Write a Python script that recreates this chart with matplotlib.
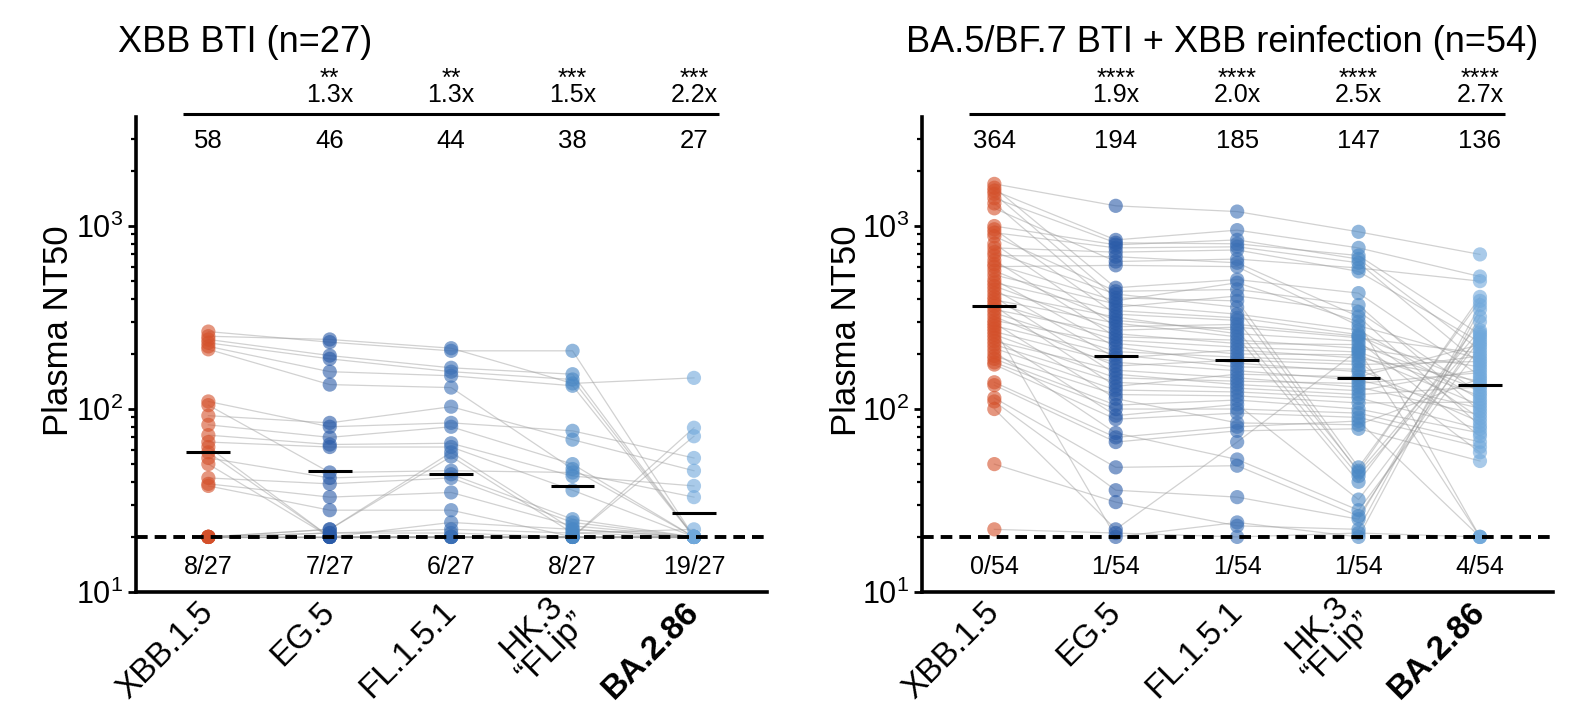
import matplotlib
matplotlib.use('Agg')
import matplotlib.pyplot as plt
import matplotlib.transforms as mtransforms

plt.rcParams['font.family'] = ['Liberation Sans', 'DejaVu Sans']
plt.rcParams['mathtext.fontset'] = 'custom'
plt.rcParams['mathtext.rm'] = 'Liberation Sans'
plt.rcParams['mathtext.it'] = 'Liberation Sans:italic'
plt.rcParams['mathtext.bf'] = 'Liberation Sans:bold'

variants = ['XBB.1.5', 'EG.5', 'FL.1.5.1', 'HK.3\n\u201cFLip\u201d', 'BA.2.86']
colors = ['#D4502A', '#2A5BA8', '#3A6FB5', '#4A88C5', '#70A8DB']
lod = 20

# ---------------- Left panel: XBB BTI (n=27) ----------------
left_title = 'XBB BTI (n=27)'
L_XBB = [265, 250, 240, 230, 220, 212, 110, 105, 92, 82, 72, 66, 62, 58, 54, 50, 42, 39, 38,
         20, 20, 20, 20, 20, 20, 20, 20]
L_EG = [232, 240, 196, 188, 160, 136, 80, 45, 84, 70, 64, 62, 20, 20, 42, 20, 39, 33, 28,
        22, 21, 21, 22, 20, 20, 20, 20]
L_FL = [208, 215, 168, 160, 152, 131, 84, 46, 103, 80, 65, 62, 20, 24, 44, 20, 42, 35, 28,
        58, 22, 21, 55, 20, 20, 20, 20]
L_HK = [208, 138, 155, 145, 134, 47, 76, 45, 68, 50, 43, 36, 20, 22, 25, 20, 24, 23, 20,
        22, 21, 20, 21, 20, 20, 20, 20]
L_BA = [20, 148, 20, 20, 20, 20, 54, 33, 46, 20, 38, 20, 79, 20, 20, 20, 20, 20, 20,
        20, 22, 20, 20, 71, 20, 20, 20]
left_gmt = [58, 46, 44, 38, 27]
left_fold = ['', '1.3x', '1.3x', '1.5x', '2.2x']
left_stars = ['', '**', '**', '***', '***']
left_below = ['8/27', '7/27', '6/27', '8/27', '19/27']

# ---------------- Right panel: BA.5/BF.7 BTI + XBB reinfection (n=54) ----------------
right_title = 'BA.5/BF.7 BTI + XBB reinfection (n=54)'
R_XBB = [1700, 1620, 1560, 1500, 1420, 1330, 1250, 1000, 960, 920, 880, 800, 760, 720, 690, 650,
         620, 600, 570, 540, 510, 490, 470, 450, 430, 410, 395, 380, 365, 350, 335, 320, 305, 295,
         285, 275, 265, 255, 245, 235, 225, 215, 205, 195, 188, 180, 175, 140, 135, 115, 110, 100,
         50, 22]
R_EG = [1290, 460, 840, 405, 810, 360, 640, 790, 330, 760, 440, 282, 720, 425, 680, 248, 390, 610,
        305, 375, 218, 345, 270, 190, 318, 155, 295, 238, 133, 258, 206, 172, 228, 114, 198, 20,
        180, 148, 92, 163, 140, 127, 74, 120, 105, 100, 88, 70, 66, 48, 36, 22, 31, 21]
R_FL = [1200, 510, 950, 390, 800, 415, 660, 840, 305, 770, 450, 290, 740, 360, 630, 238, 490, 600,
        270, 330, 178, 315, 280, 210, 258, 136, 248, 218, 155, 228, 192, 185, 200, 84, 170, 24,
        162, 142, 106, 148, 130, 124, 53, 118, 112, 100, 95, 80, 76, 49, 33, 66, 23, 20]
R_HK = [930, 430, 760, 48, 690, 340, 590, 660, 46, 630, 370, 250, 565, 45, 320, 215, 300, 285,
        43, 270, 160, 255, 245, 190, 235, 126, 40, 205, 150, 225, 182, 175, 198, 82, 165, 20,
        144, 138, 32, 132, 120, 115, 28, 108, 100, 95, 90, 86, 78, 26, 25, 210, 22, 21]
R_BA = [700, 152, 530, 390, 255, 122, 500, 210, 410, 176, 97, 137, 232, 270, 81, 170, 20, 188,
        248, 113, 195, 89, 202, 142, 71, 164, 300, 118, 225, 127, 58, 182, 105, 147, 85, 350,
        101, 158, 240, 93, 132, 78, 218, 109, 74, 66, 62, 20, 52, 262, 320, 20, 370, 20]
right_gmt = [364, 194, 185, 147, 136]
right_fold = ['', '1.9x', '2.0x', '2.5x', '2.7x']
right_stars = ['', '****', '****', '****', '****']
right_below = ['0/54', '1/54', '1/54', '1/54', '4/54']

W, H = 1589, 722
fig = plt.figure(figsize=(W / 100, H / 100), dpi=100)

ax_bottom = 1 - 592 / H
ax_height = (592 - 117) / H
ax_width = 631.3 / W
axL = fig.add_axes([135.5 / W, ax_bottom, ax_width, ax_height])
axR = fig.add_axes([921.5 / W, ax_bottom, ax_width, ax_height])


def ypx(px):
    # axes-fraction y for a figure pixel row (from top)
    return (592 - px) / (592 - 117)


def draw_panel(ax, data, gmt, fold, stars, below, title, title_x):
    xs = list(range(len(data)))
    n = len(data[0])
    for i in range(n):
        ax.plot(xs, [d[i] for d in data], color='#9a9a9a', lw=0.9, alpha=0.45, zorder=1)
    for j, d in enumerate(data):
        ax.scatter([j] * len(d), d, s=105, color=colors[j], alpha=0.6,
                   edgecolors='none', zorder=2)
        ax.plot([j - 0.18, j + 0.18], [gmt[j], gmt[j]], color='black', lw=2.2,
                solid_capstyle='butt', zorder=4)
    ax.axhline(lod, color='black', lw=2.8, dashes=(3.0, 1.8), zorder=5)

    ax.set_yscale('log')
    ax.set_ylim(10, 3945)
    ax.set_xlim(-0.6, 4.6)
    for s in ['top', 'right']:
        ax.spines[s].set_visible(False)
    for s in ['left', 'bottom']:
        ax.spines[s].set_linewidth(2.6)
    ax.tick_params(axis='y', which='major', direction='out', length=6, width=2,
                   labelsize=22, pad=3)
    ax.tick_params(axis='y', which='minor', direction='out', length=3.5, width=1.6)
    ax.tick_params(axis='x', length=0, labelsize=24, pad=11)
    ax.set_xticks(xs)
    labs = ax.set_xticklabels(variants, rotation=45, ha='right', va='center',
                              rotation_mode='anchor', multialignment='center',
                              linespacing=0.95)
    labs[-1].set_fontweight('bold')

    trans = mtransforms.blended_transform_factory(ax.transData, ax.transAxes)
    ax.plot([-0.21, 4.21], [ypx(114.3)] * 2, color='black', lw=2.2, transform=trans,
            clip_on=False, solid_capstyle='butt')
    for j in xs:
        ax.text(j, ypx(141), str(gmt[j]), transform=trans, ha='center', va='center',
                fontsize=18.5)
        ax.text(j, ypx(566.5), below[j], transform=trans, ha='center', va='center',
                fontsize=18)
        if fold[j]:
            ax.text(j, ypx(102), stars[j] + '\n' + fold[j], transform=trans,
                    ha='center', va='baseline', multialignment='center',
                    fontsize=18, linespacing=0.6, clip_on=False)
    ax.text(title_x, ypx(43), title, transform=ax.transAxes, ha='left', va='center',
            fontsize=26)


draw_panel(axL, [L_XBB, L_EG, L_FL, L_HK, L_BA], left_gmt, left_fold, left_stars,
           left_below, left_title, (118 - 135.5) / 631.3)
draw_panel(axR, [R_XBB, R_EG, R_FL, R_HK, R_BA], right_gmt, right_fold, right_stars,
           right_below, right_title, (906 - 921.5) / 631.3)

fig.text(59 / W, 1 - 331 / H, 'Plasma NT50', rotation=90, ha='center', va='center',
         fontsize=25)
fig.text(846 / W, 1 - 331 / H, 'Plasma NT50', rotation=90, ha='center', va='center',
         fontsize=25)

fig.savefig('out.png', dpi=100)
